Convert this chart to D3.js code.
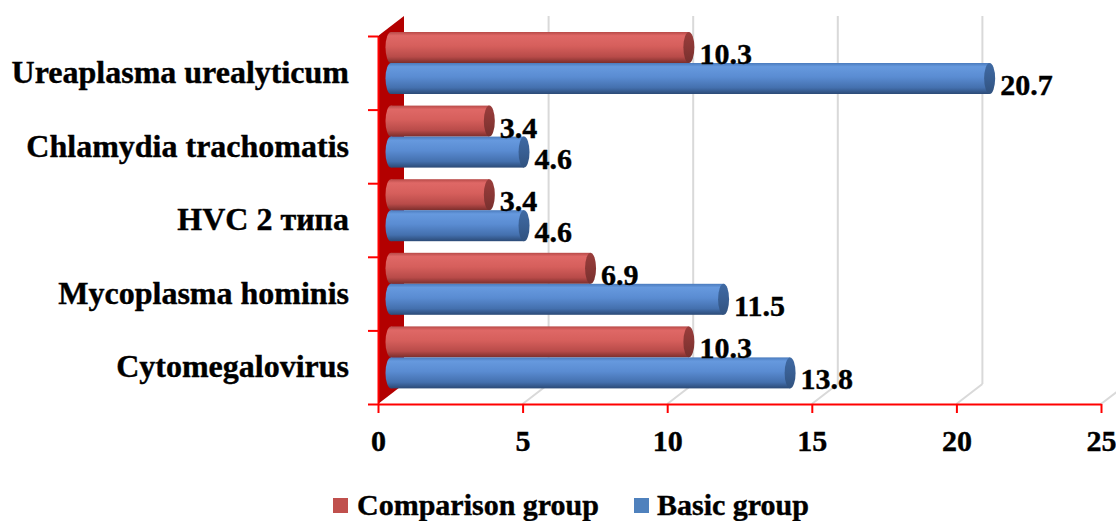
<!DOCTYPE html>
<html>
<head>
<meta charset="utf-8">
<script src="https://cdn.jsdelivr.net/npm/d3@7/dist/d3.min.js"></script>
<style>
  html, body { margin: 0; padding: 0; background: #ffffff; }
  svg { display: block; }
  text { font-family: "Liberation Serif", "Times New Roman", serif; font-weight: bold; fill: #000; }
</style>
</head>
<body>
<svg id="chart" width="1116" height="521"></svg>
<script>
// Infection categories, listed top to bottom
const categories = [
  "Ureaplasma urealyticum",
  "Chlamydia trachomatis",
  "HVC 2 типа",
  "Mycoplasma hominis",
  "Cytomegalovirus"
];
const seriesNames = ["Comparison group", "Basic group"];
const comparisonValues = [10.3, 3.4, 3.4, 6.9, 10.3];
const basicValues = [20.7, 4.6, 4.6, 11.5, 13.8];
const xTickValues = [0, 5, 10, 15, 20, 25];

const svg = d3.select("#chart");

// Front plane of the 3-D plot box, plus the depth offset of the back wall
const front = { left: 378, right: 1101, top: 36, bottom: 404 };
const depth = { dx: 26, dy: -20 };
const mid = { dx: depth.dx / 2, dy: depth.dy / 2 };

const x = d3.scaleLinear().domain([0, 25]).range([front.left, front.right]);
const y = d3.scaleBand().domain(categories).range([front.top, front.bottom]).padding(0);
const inner = d3.scaleBand().domain(seriesNames).range([6, y.bandwidth() - 5.6]).padding(0);

const colors = {
  "Comparison group": { legend: "#c0504d", cap: "#8a3735", stops: ["#b84a48", "#df6866", "#d65f5c", "#b84b49", "#7c2e2c"] },
  "Basic group":      { legend: "#4f81bd", cap: "#395f93", stops: ["#4a7bbd", "#6699de", "#5a8cd2", "#4470ae", "#2b4a76"] }
};

const defs = svg.append("defs");
seriesNames.forEach((s, i) => {
  const g = defs.append("linearGradient")
    .attr("id", "body" + i).attr("x1", 0).attr("y1", 0).attr("x2", 0).attr("y2", 1);
  const offs = [0, 0.12, 0.45, 0.8, 1];
  colors[s].stops.forEach((c, k) => g.append("stop").attr("offset", offs[k]).attr("stop-color", c));
  const cg = defs.append("linearGradient")
    .attr("id", "cap" + i).attr("x1", 0).attr("y1", 0).attr("x2", 0).attr("y2", 1);
  cg.append("stop").attr("offset", 0).attr("stop-color", d3.color(colors[s].cap).brighter(0.3));
  cg.append("stop").attr("offset", 0.5).attr("stop-color", colors[s].cap);
  cg.append("stop").attr("offset", 1).attr("stop-color", d3.color(colors[s].cap).darker(0.4));
});

// Back wall gridlines and floor lines
const grid = svg.append("g").attr("stroke", "#d9d9d9").attr("stroke-width", 2).attr("fill", "none");
xTickValues.filter(v => v > 0).forEach(v => {
  grid.append("line")
    .attr("x1", x(v) + depth.dx).attr("x2", x(v) + depth.dx)
    .attr("y1", front.top + depth.dy).attr("y2", front.bottom + depth.dy);
  grid.append("line")
    .attr("x1", x(v)).attr("y1", front.bottom)
    .attr("x2", x(v) + depth.dx).attr("y2", front.bottom + depth.dy);
});

// Side wall
svg.append("polygon")
  .attr("points", [
    [front.left, front.top],
    [front.left + depth.dx, front.top + depth.dy],
    [front.left + depth.dx, front.bottom + depth.dy],
    [front.left, front.bottom]
  ].map(p => p.join(",")).join(" "))
  .attr("fill", "#b30000");

// Cylinder bars
const rx = 5.5;
const rows = categories.map((c, i) => ({
  category: c,
  values: [
    { series: seriesNames[0], value: comparisonValues[i], idx: 0 },
    { series: seriesNames[1], value: basicValues[i], idx: 1 }
  ]
}));

const barLayer = svg.append("g");
rows.forEach(r => {
  r.values.forEach(d => {
    const x0 = x(0) + mid.dx;
    const x1 = x(d.value) + mid.dx;
    const top = y(r.category) + inner(d.series) + mid.dy;
    const h = inner.bandwidth();
    const g = barLayer.append("g");
    g.append("ellipse")
      .attr("cx", x0).attr("cy", top + h / 2).attr("rx", rx).attr("ry", h / 2)
      .attr("fill", `url(#body${d.idx})`);
    g.append("rect")
      .attr("x", x0).attr("y", top).attr("width", x1 - x0).attr("height", h)
      .attr("fill", `url(#body${d.idx})`);
    g.append("ellipse")
      .attr("cx", x1).attr("cy", top + h / 2).attr("rx", rx).attr("ry", h / 2)
      .attr("fill", `url(#cap${d.idx})`);
  });
});

// Value labels
const labelLayer = svg.append("g").attr("font-size", 30);
rows.forEach(r => {
  r.values.forEach(d => {
    const top = y(r.category) + inner(d.series) + mid.dy;
    labelLayer.append("text")
      .attr("x", x(d.value) + mid.dx + rx + 5)
      .attr("y", top + inner.bandwidth() + 1)
      .attr("stroke", "#000").attr("stroke-width", 0.4)
      .text(d3.format(".1f")(d.value));
  });
});

// X axis (front plane)
const xAxis = svg.append("g")
  .attr("transform", `translate(0,${front.bottom})`)
  .call(d3.axisBottom(x).tickValues(xTickValues).tickFormat(d3.format("d"))
    .tickSizeInner(9).tickSizeOuter(0).tickPadding(17));
xAxis.select(".domain").attr("stroke", "#ff0000").attr("stroke-width", 2);
xAxis.selectAll(".tick line").attr("stroke", "#ff0000").attr("stroke-width", 2);
xAxis.selectAll(".tick text")
  .attr("font-size", 30).attr("font-family", null).attr("fill", "#000")
  .attr("stroke", "#000").attr("stroke-width", 0.4);

// Y axis line with tick marks at category boundaries
const yEdges = d3.scaleLinear().domain([0, categories.length]).range([front.bottom, front.top]);
const yAxis = svg.append("g")
  .attr("transform", `translate(${front.left},0)`)
  .call(d3.axisLeft(yEdges).tickValues(d3.range(categories.length + 1)).tickFormat("")
    .tickSizeInner(10).tickSizeOuter(0));
yAxis.select(".domain").attr("stroke", "#ff0000").attr("stroke-width", 2);
yAxis.selectAll(".tick line").attr("stroke", "#ff0000").attr("stroke-width", 2);

// Category labels
const yLabels = svg.append("g")
  .attr("transform", `translate(${front.left},0)`)
  .call(d3.axisLeft(y).tickSize(0).tickPadding(29));
yLabels.select(".domain").remove();
yLabels.selectAll(".tick text")
  .attr("font-size", 32).attr("font-family", null).attr("fill", "#000")
  .attr("stroke", "#000").attr("stroke-width", 0.4);

// Legend
const legend = svg.append("g").attr("font-size", 30);
const legendItems = [
  { name: seriesNames[0], sx: 333, tx: 357 },
  { name: seriesNames[1], sx: 634, tx: 657 }
];
legendItems.forEach(it => {
  legend.append("rect")
    .attr("x", it.sx).attr("y", 498).attr("width", 15).attr("height", 15)
    .attr("fill", colors[it.name].legend);
  legend.append("text").attr("x", it.tx).attr("y", 515)
    .attr("stroke", "#000").attr("stroke-width", 0.4)
    .text(it.name);
});
</script>
</body>
</html>
